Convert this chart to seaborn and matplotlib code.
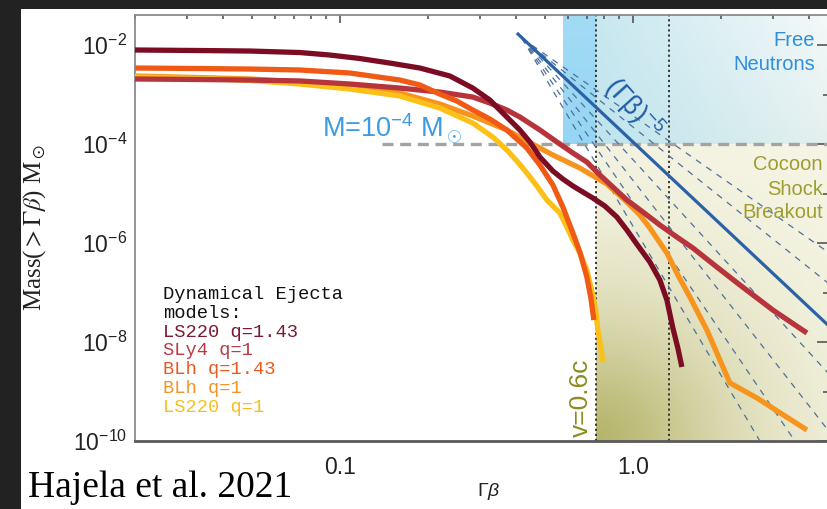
import numpy as np
import pandas as pd
import matplotlib
matplotlib.use("Agg")
import matplotlib.pyplot as plt
import seaborn as sns
from matplotlib.patches import Rectangle
from matplotlib.ticker import FixedLocator, LogLocator, FuncFormatter, NullFormatter

# ---------------- data: cumulative ejecta mass M(>Γβ) [Msun] ----------------
MODELS = ["LS220 q=1.43", "SLy4 q=1", "BLh q=1.43", "BLh q=1", "LS220 q=1"]
LINE_COLORS = ["#7b0c24", "#b8343c", "#f05a14", "#f7941d", "#fcc016"]
TEXT_COLORS = ["#7a1a30", "#b83a48", "#e85a22", "#f29426", "#f4c020"]

ls220_q143_gb = [0.0200, 0.0333, 0.0493, 0.0730, 0.0924, 0.1170, 0.1482, 0.1875, 0.2373, 0.2843,
                 0.3250, 0.3715, 0.4114, 0.4452, 0.4817, 0.5333, 0.5770, 0.6242, 0.6752, 0.7302,
                 0.8024, 0.8818, 0.9539, 1.0310, 1.1430, 1.2363, 1.3065, 1.3692, 1.4240, 1.4697]
ls220_q143_m = [7.93e-3, 7.74e-3, 7.56e-3, 7.05e-3, 6.28e-3, 5.34e-3, 4.32e-3, 3.43e-3, 2.37e-3, 1.35e-3,
                7.74e-4, 3.51e-4, 1.92e-4, 1.10e-4, 5.46e-5, 2.85e-5, 1.96e-5, 1.42e-5, 1.07e-5, 8.11e-6,
                5.58e-6, 3.35e-6, 1.83e-6, 9.55e-7, 4.13e-7, 1.79e-7, 7.05e-8, 1.92e-8, 7.56e-9, 3.13e-9]

sly4_q1_gb = [0.0200, 0.0333, 0.0493, 0.0730, 0.1082, 0.1603, 0.2195, 0.2843, 0.3250, 0.3715,
              0.4114, 0.4817, 0.5503, 0.6242, 0.6966, 0.7715, 0.8546, 0.9539, 1.0818, 1.2363,
              1.4128, 1.6024, 1.9349, 2.3182, 3.0050, 3.9265]
sly4_q1_m = [2.06e-3, 2.01e-3, 1.96e-3, 1.88e-3, 1.63e-3, 1.35e-3, 1.12e-3, 8.89e-4, 6.73e-4, 4.86e-4,
             3.51e-4, 1.92e-4, 1.10e-4, 6.58e-5, 4.32e-5, 2.37e-5, 1.35e-5, 7.40e-6, 4.23e-6, 2.31e-6,
             1.32e-6, 7.93e-7, 3.27e-7, 1.42e-7, 4.42e-8, 1.52e-8]

blh_q143_gb = [0.0200, 0.0333, 0.0493, 0.0730, 0.1082, 0.1603, 0.1875, 0.2195, 0.2507, 0.2843,
               0.3250, 0.3715, 0.4019, 0.4347, 0.4817, 0.5333, 0.5770, 0.6242, 0.6594, 0.6966,
               0.7190, 0.7360]
blh_q143_m = [3.43e-3, 3.35e-3, 3.27e-3, 3.13e-3, 2.72e-3, 1.96e-3, 1.56e-3, 1.02e-3, 7.40e-4, 4.86e-4,
              3.20e-4, 1.92e-4, 1.26e-4, 8.30e-5, 3.77e-5, 1.49e-5, 5.33e-6, 1.59e-6, 6.58e-7, 2.06e-7,
              7.74e-8, 2.78e-8]

blh_q1_gb = [0.0200, 0.0333, 0.0493, 0.0730, 0.1082, 0.1603, 0.2195, 0.2843, 0.3715, 0.4347,
             0.5333, 0.6594, 0.8152, 0.9539, 1.0565, 1.1430, 1.3065, 1.4240, 1.5650, 1.7885,
             1.9815, 2.1431, 2.6501, 3.2250, 3.9265]
blh_q1_m = [2.37e-3, 2.20e-3, 2.06e-3, 1.79e-3, 1.42e-3, 1.07e-3, 6.42e-4, 3.68e-4, 1.92e-4, 1.15e-4,
            6.00e-5, 3.27e-5, 1.56e-5, 6.73e-6, 3.68e-6, 2.01e-6, 6.28e-7, 2.26e-7, 8.11e-8, 1.75e-8,
            4.33e-9, 1.49e-9, 7.40e-10, 3.51e-10, 1.67e-10]

ls220_q1_gb = [0.0200, 0.0333, 0.0493, 0.0730, 0.1082, 0.1603, 0.2195, 0.2843, 0.3328, 0.3715,
               0.4019, 0.4347, 0.4703, 0.5087, 0.5635, 0.5954, 0.6242, 0.6594, 0.6966, 0.7302,
               0.7476, 0.7594, 0.7776, 0.7901]
ls220_q1_m = [2.26e-3, 2.11e-3, 1.92e-3, 1.63e-3, 1.29e-3, 9.33e-4, 5.33e-4, 2.65e-4, 1.38e-4, 7.57e-5,
              4.54e-5, 2.60e-5, 1.42e-5, 7.40e-6, 4.04e-6, 2.10e-6, 1.15e-6, 6.28e-7, 2.85e-7, 8.89e-8,
              4.04e-8, 1.75e-8, 7.92e-9, 3.94e-9]

# steep power-law tail
powerlaw_gb = [0.402, 4.63]
powerlaw_m = [1.75e-2, 2.2e-8]

# family of alternative power-law tails from a common pivot
fan_pivot_gb, fan_pivot_m = 0.418, 1.38e-2
fan_end_gb = [2.713, 3.572, 4.63, 4.63, 4.63, 4.63]
fan_end_m = [1e-10, 1e-10, 1.67e-10, 2.37e-9, 1.56e-7, 6.58e-7]

M_THRESHOLD = 1e-4
M_LINE_START = 0.139
V_NEUTRON = 0.5   # free-neutron region starts here (units of c)
V_COCOON = 0.6    # cocoon shock breakout region
V_FAST = 0.8

XLIM = (0.020, 4.67)
YLIM = (1e-10, 0.0404)
Y_MAJOR = [1e-10, 1e-8, 1e-6, 1e-4, 1e-2]
Y_MINOR = [1e-9, 1e-7, 1e-5, 1e-3]


def gamma_beta(v):
    return v / np.sqrt(1.0 - v ** 2)


# ---------------- figure ----------------
sns.set_style("white")
plt.rcParams["font.family"] = ["Liberation Sans", "DejaVu Sans"]
plt.rcParams["mathtext.fontset"] = "custom"
plt.rcParams["mathtext.rm"] = "Liberation Sans"
plt.rcParams["mathtext.it"] = "Liberation Sans:italic"
plt.rcParams["mathtext.bf"] = "Liberation Sans:bold"

W, H = 828, 509
fig = plt.figure(figsize=(W / 100, H / 100), dpi=100, facecolor="#222222")
fig.add_artist(Rectangle((21 / W, 0), 1 - 21 / W, 1 - 9 / H, transform=fig.transFigure,
                         facecolor="white", edgecolor="none", zorder=-10))
ax = fig.add_axes([135 / W, 1 - 441 / H, 694 / W, 426 / H])
ax.set_facecolor("white")
ax.set_xscale("log")
ax.set_yscale("log")
ax.set_xlim(*XLIM)
ax.set_ylim(*YLIM)
ax.set_autoscale_on(False)


def fx(v):
    a, b = np.log10(XLIM)
    return (np.log10(v) - a) / (b - a)


def fy(v):
    a, b = np.log10(YLIM)
    return (np.log10(v) - a) / (b - a)


gb_n, gb_c, gb_f = gamma_beta(V_NEUTRON), gamma_beta(V_COCOON), gamma_beta(V_FAST)
ax_w_px, ax_h_px = 694, 426

# cocoon shock-breakout region: olive glow from lower-left corner
x0, y1 = fx(gb_c), fy(M_THRESHOLD)
nw, nh = 240, 300
u = np.linspace(0, 1, nw)[None, :] * (1 - x0) * ax_w_px
v = np.linspace(0, 1, nh)[:, None] * y1 * ax_h_px
r = np.sqrt((u / 150.0) ** 2 + (v / 140.0) ** 2)
d = np.exp(-r ** 1.5)[..., None]
cream = np.array([247, 246, 231]) / 255
olive = np.array([182, 181, 108]) / 255
img = cream + (olive - cream) * d
ax.imshow(img, extent=(x0, 1, 0, y1), transform=ax.transAxes, origin="lower",
          aspect="auto", interpolation="bilinear", zorder=0)

# free-neutron region
xs = fx(gb_n)
strip = np.linspace(np.array([150, 213, 243]), np.array([162, 219, 245]), 50)[:, None, :] / 255
ax.imshow(np.repeat(strip, 2, axis=1), extent=(xs, x0, y1, 1), transform=ax.transAxes,
          origin="lower", aspect="auto", interpolation="bilinear", zorder=0)
uu = np.linspace(0, 1, 120)[None, :, None]
vv = np.linspace(0, 1, 80)[:, None, None]
BL, TL = np.array([190, 228, 238]), np.array([200, 232, 240])
BR, TR = np.array([228, 240, 238]), np.array([245, 249, 250])
grad = ((1 - uu) * (1 - vv) * BL + (1 - uu) * vv * TL + uu * (1 - vv) * BR + uu * vv * TR) / 255
ax.imshow(grad, extent=(x0, 1, y1, 1), transform=ax.transAxes, origin="lower",
          aspect="auto", interpolation="bilinear", zorder=0)

# region boundaries
for gbv in (gb_c, gb_f):
    ax.axvline(gbv, color="#2a2a2a", lw=1.3, ls=(0, (1.2, 1.6)), zorder=2)
ax.plot([M_LINE_START, XLIM[1]], [M_THRESHOLD, M_THRESHOLD], color="#a3a3a3", lw=2.4,
        ls=(0, (3.3, 2.0)), zorder=2, solid_capstyle="butt")

# power-law guides
for ge, me in zip(fan_end_gb, fan_end_m):
    ax.plot([fan_pivot_gb, ge], [fan_pivot_m, me], color="#4d6f9e", lw=0.9,
            ls=(0, (5, 5)), zorder=3)
ax.plot(powerlaw_gb, powerlaw_m, color="#2a62a8", lw=2.3, zorder=4, solid_capstyle="butt")

# ejecta models
series = {
    "LS220 q=1.43": (ls220_q143_gb, ls220_q143_m),
    "SLy4 q=1": (sly4_q1_gb, sly4_q1_m),
    "BLh q=1.43": (blh_q143_gb, blh_q143_m),
    "BLh q=1": (blh_q1_gb, blh_q1_m),
    "LS220 q=1": (ls220_q1_gb, ls220_q1_m),
}
df = pd.concat([pd.DataFrame({"model": k, "gb": g, "mass": m}) for k, (g, m) in series.items()],
               ignore_index=True)
draw_order = ["BLh q=1", "LS220 q=1", "SLy4 q=1", "BLh q=1.43", "LS220 q=1.43"]
sns.lineplot(data=df, x="gb", y="mass", hue="model", hue_order=draw_order,
             palette=dict(zip(MODELS, LINE_COLORS)), sort=False, estimator=None,
             lw=3.8, legend=False, ax=ax, zorder=5, solid_capstyle="butt",
             solid_joinstyle="round")
ax.set_xlim(*XLIM)
ax.set_ylim(*YLIM)

# axes styling
for side in ("left", "top", "right"):
    ax.spines[side].set_color("#8a8a8a")
    ax.spines[side].set_linewidth(1.3)
ax.spines["bottom"].set_color("#5a5a5a")
ax.spines["bottom"].set_linewidth(2.0)

ax.yaxis.set_major_locator(FixedLocator(Y_MAJOR))
ax.yaxis.set_minor_locator(FixedLocator(Y_MINOR))
ax.yaxis.set_major_formatter(FuncFormatter(lambda val, p: r"$10^{%d}$" % round(np.log10(val))))
ax.yaxis.set_minor_formatter(NullFormatter())
ax.xaxis.set_major_locator(LogLocator(base=10))
ax.xaxis.set_minor_locator(LogLocator(base=10, subs=np.arange(2, 10)))
ax.xaxis.set_major_formatter(FuncFormatter(lambda val, p: f"{val:.1f}"))
ax.xaxis.set_minor_formatter(NullFormatter())

ax.tick_params(which="both", direction="in", top=True, right=True, colors="#555555",
               labelcolor="#222222", width=1.2)
ax.tick_params(axis="y", which="major", length=8.5, pad=5.5, labelsize=16.5)
ax.tick_params(axis="y", which="minor", length=4.5)
ax.tick_params(axis="x", which="major", length=6, pad=10.5, labelsize=16.5)
ax.tick_params(axis="x", which="minor", length=3)

ax.set_xlabel(r"$\Gamma\beta$", fontsize=14, color="#222222")
ax.xaxis.set_label_coords(0.509, -0.095)
ax.set_ylabel(r"Mass($>\Gamma\beta$) M$_\odot$", fontsize=18, color="#222222",
              fontfamily="Liberation Serif", math_fontfamily="stix")
ax.yaxis.set_label_coords(-0.125, 0.5)


def fp(xp, yp):
    return xp / W, 1 - yp / H


# annotations
fig.text(*fp(322, 138), r"M=10$^{-4}$ M$_\odot$", color="#3d9be0", fontsize=19.5,
         ha="left", va="baseline")
fig.text(*fp(815, 46), "Free", color="#2f8fdc", fontsize=14.5, ha="right", va="baseline")
fig.text(*fp(815, 70), "Neutrons", color="#2f8fdc", fontsize=14.5, ha="right", va="baseline")
for word, yb in zip(["Cocoon", "Shock", "Breakout"], [170, 195, 218]):
    fig.text(*fp(823, yb), word, color="#9d9d30", fontsize=14.5, ha="right", va="baseline")
fig.text(*fp(634, 108), r"(Γβ)$^{-5}$", color="#1f5ea8", fontsize=19.5, ha="center",
         va="center", rotation=-48, rotation_mode="anchor")
fig.text(*fp(581, 437), "v=0.6c", color="#8c8c22", fontsize=19, ha="center", va="bottom",
         rotation=90)

legend_lines = ["Dynamical Ejecta", "models:"] + MODELS
legend_colors = ["#111111", "#111111"] + TEXT_COLORS
for i, (txt, col) in enumerate(zip(legend_lines, legend_colors)):
    fig.text(*fp(163, 299 + 18.8 * i), txt, color=col, fontsize=13.5,
             fontfamily="Liberation Mono", ha="left", va="baseline")

fig.text(*fp(28, 497), "Hajela et al. 2021", color="black", fontsize=27,
         fontfamily="Liberation Serif", ha="left", va="baseline")

fig.savefig("out.png", dpi=100, facecolor=fig.get_facecolor())
